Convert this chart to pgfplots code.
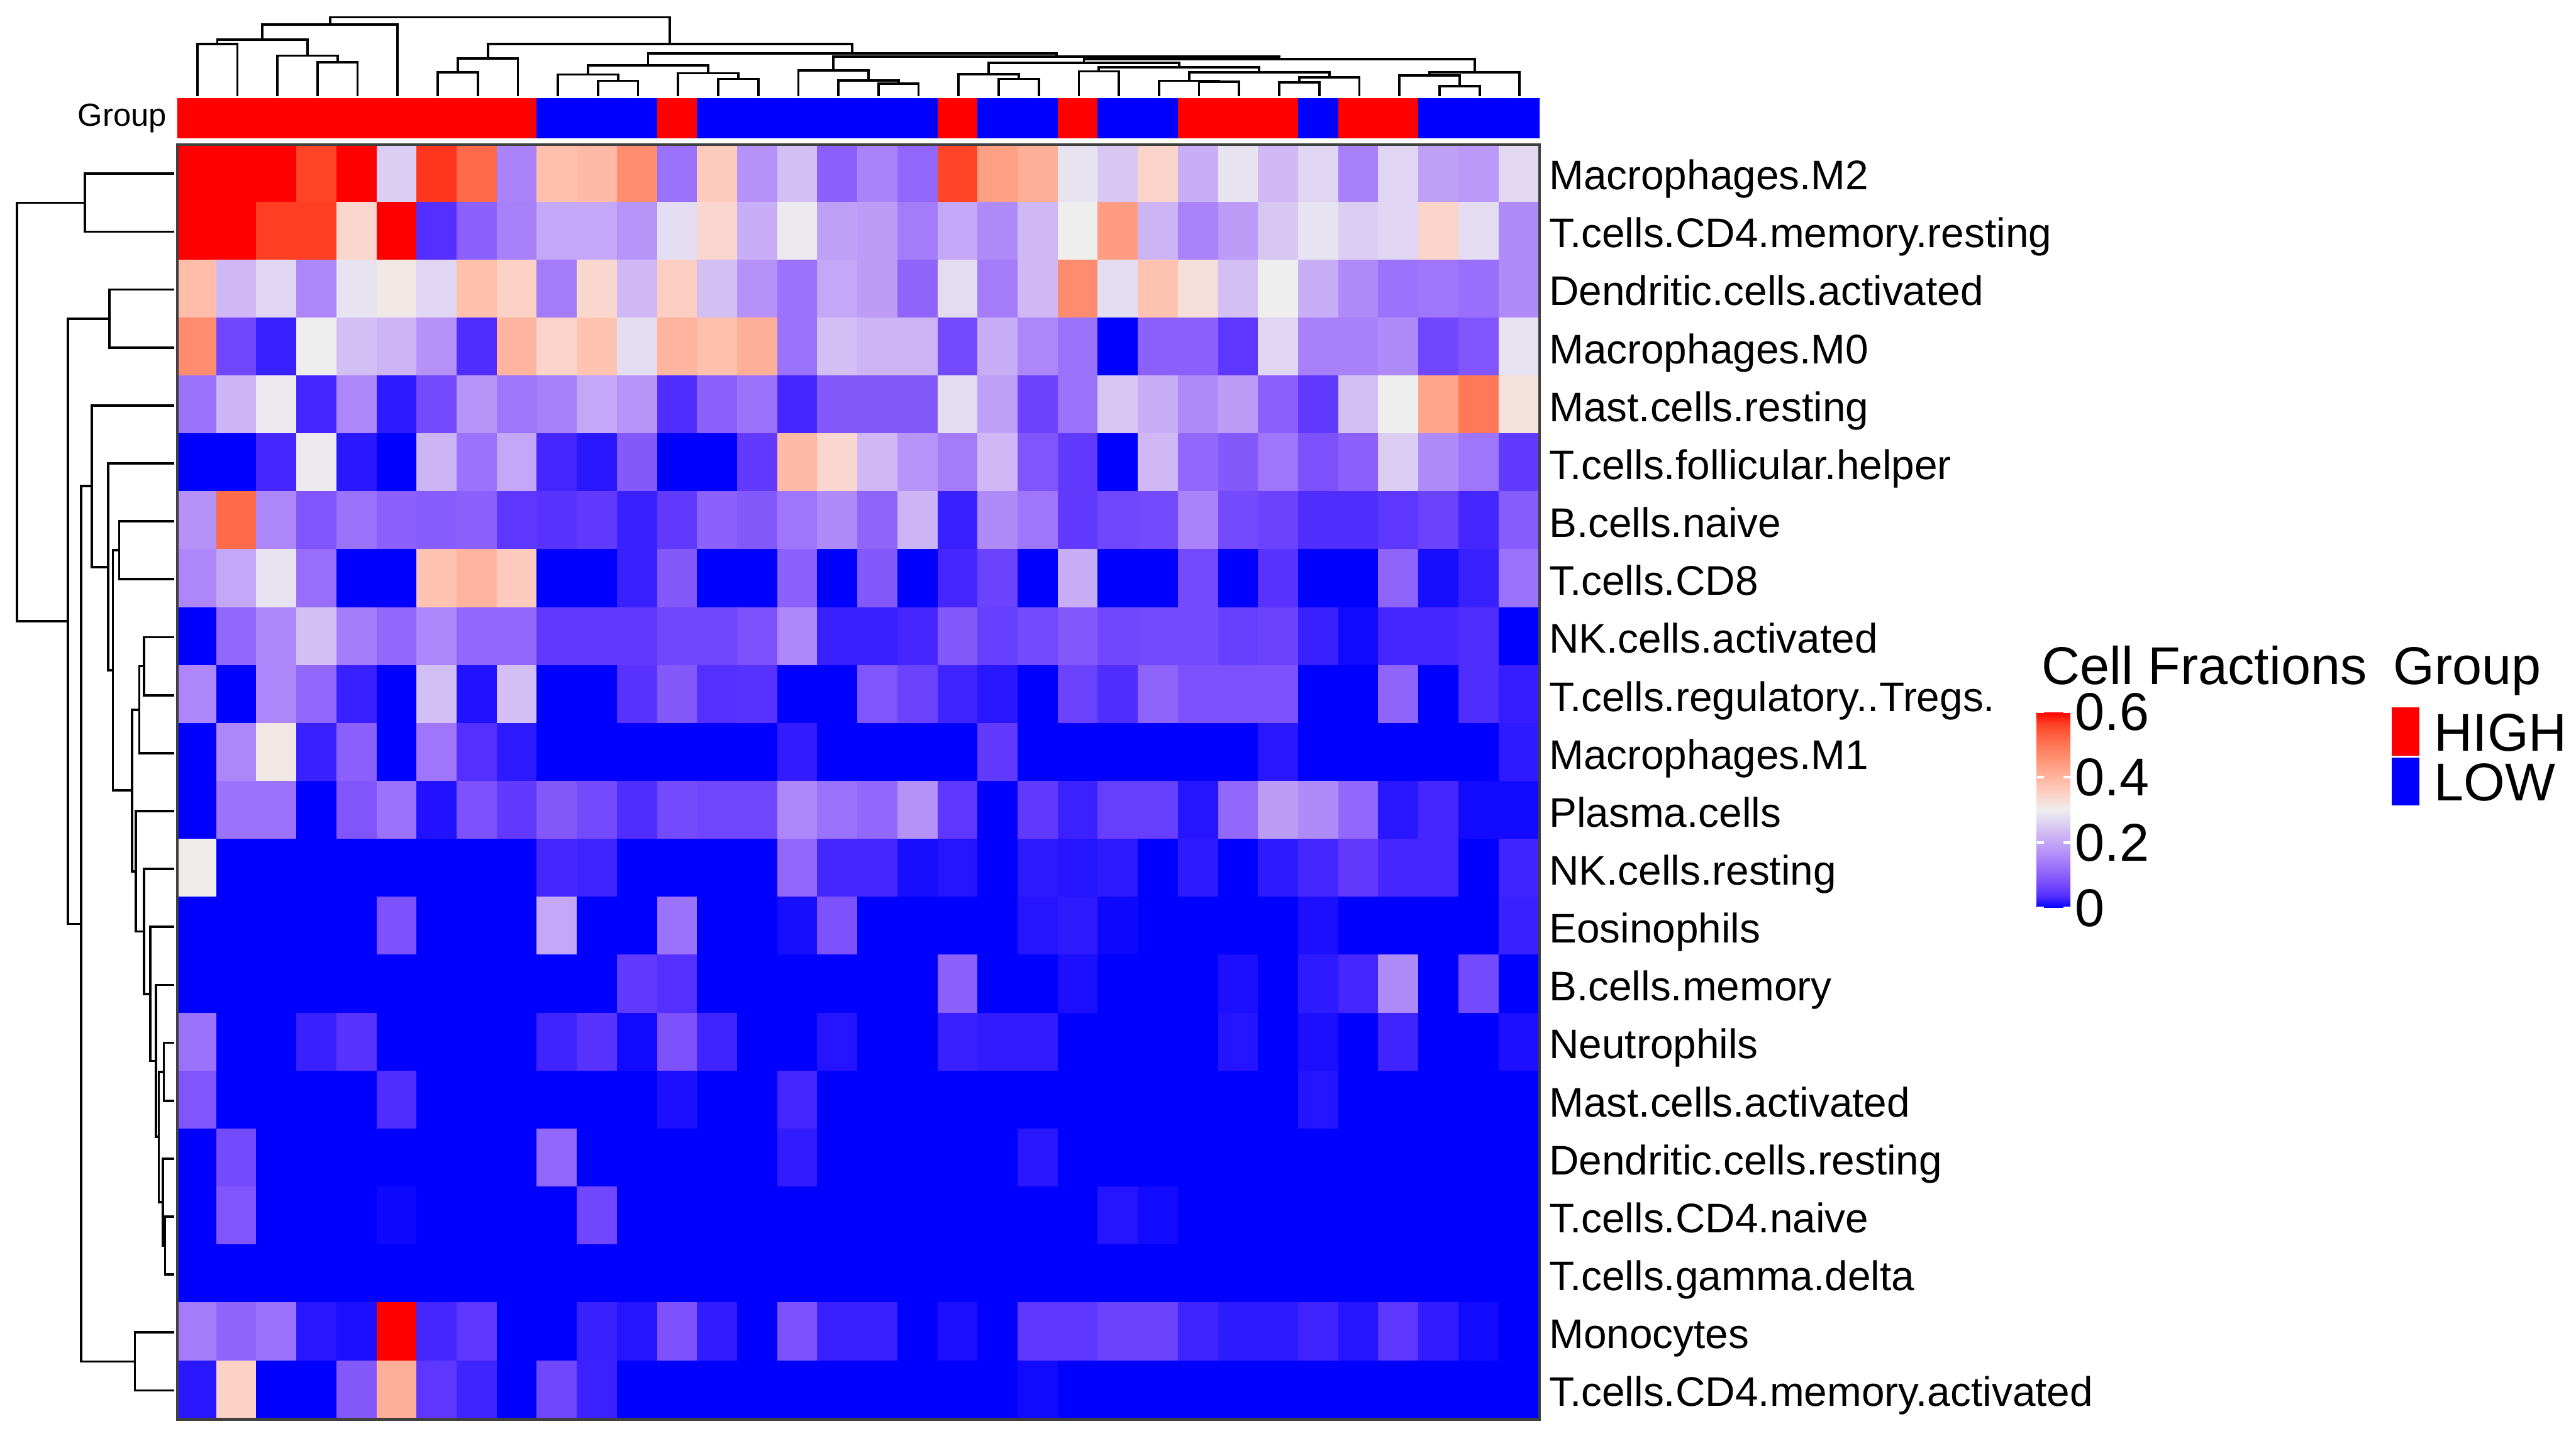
\documentclass[border=0pt]{standalone}
\usepackage{fontspec}
\setmainfont{Liberation Sans}
\usepackage{pgfplots}
\usepackage{pgfplotstable}
\pgfplotsset{compat=1.18}
\pgfplotsset{colormap={grp}{rgb255=(0,0,255) rgb255=(255,0,0)}}
\pgfplotsset{colormap={hm}{rgb255=(0,0,255) rgb255=(86,48,255) rgb255=(121,78,253) rgb255=(148,105,251) rgb255=(170,131,250) rgb255=(190,158,247) rgb255=(207,184,245) rgb255=(223,211,242) rgb255=(238,238,238) rgb255=(249,216,208) rgb255=(255,195,178) rgb255=(255,173,150) rgb255=(255,150,121) rgb255=(255,126,94) rgb255=(255,99,67) rgb255=(255,67,38) rgb255=(255,0,0)}}
\pgfplotsset{dend/.style={black, line width=0.4pt, mark=none, line join=miter}}

% heatmap values, row by row (22 rows x 34 columns)
\pgfplotstableread[row sep=\\]{
v\\
0.62\\0.62\\0.62\\0.56\\0.62\\0.255\\0.57\\0.515\\0.15\\0.38\\0.39\\0.465\\0.125\\0.36\\0.17\\0.235\\0.10\\0.15\\0.11\\0.56\\0.435\\0.41\\0.285\\0.245\\0.345\\0.21\\0.285\\0.225\\0.265\\0.145\\0.265\\0.19\\0.18\\0.27\\
0.62\\0.62\\0.565\\0.565\\0.34\\0.62\\0.037\\0.10\\0.145\\0.2\\0.2\\0.175\\0.275\\0.34\\0.21\\0.295\\0.19\\0.185\\0.14\\0.2\\0.16\\0.225\\0.3\\0.44\\0.22\\0.15\\0.185\\0.245\\0.285\\0.255\\0.265\\0.345\\0.275\\0.16\\
0.385\\0.225\\0.265\\0.155\\0.285\\0.31\\0.265\\0.38\\0.35\\0.14\\0.34\\0.225\\0.355\\0.235\\0.17\\0.125\\0.2\\0.185\\0.105\\0.275\\0.14\\0.225\\0.465\\0.275\\0.375\\0.325\\0.235\\0.3\\0.21\\0.16\\0.125\\0.13\\0.12\\0.16\\
0.465\\0.065\\0.025\\0.3\\0.235\\0.22\\0.17\\0.035\\0.4\\0.345\\0.375\\0.275\\0.4\\0.38\\0.41\\0.125\\0.235\\0.22\\0.22\\0.07\\0.21\\0.155\\0.125\\0\\0.1\\0.1\\0.045\\0.265\\0.145\\0.145\\0.16\\0.065\\0.085\\0.285\\
0.125\\0.22\\0.295\\0.03\\0.155\\0.02\\0.07\\0.175\\0.13\\0.145\\0.2\\0.175\\0.035\\0.1\\0.125\\0.03\\0.09\\0.09\\0.09\\0.275\\0.19\\0.06\\0.125\\0.245\\0.21\\0.16\\0.185\\0.1\\0.05\\0.235\\0.3\\0.425\\0.495\\0.32\\
0\\0\\0.03\\0.295\\0.018\\0\\0.22\\0.125\\0.2\\0.03\\0.018\\0.09\\0\\0\\0.05\\0.39\\0.34\\0.225\\0.175\\0.14\\0.225\\0.085\\0.05\\0\\0.225\\0.11\\0.09\\0.13\\0.08\\0.1\\0.255\\0.16\\0.13\\0.05\\
0.17\\0.515\\0.155\\0.085\\0.125\\0.1\\0.095\\0.1\\0.045\\0.04\\0.05\\0.025\\0.048\\0.1\\0.09\\0.13\\0.16\\0.105\\0.22\\0.025\\0.16\\0.13\\0.05\\0.065\\0.07\\0.15\\0.07\\0.06\\0.035\\0.035\\0.045\\0.06\\0.03\\0.095\\
0.155\\0.2\\0.285\\0.12\\0\\0\\0.375\\0.4\\0.36\\0\\0\\0.025\\0.09\\0\\0\\0.1\\0\\0.09\\0\\0.03\\0.06\\0\\0.21\\0\\0\\0.07\\0\\0.04\\0\\0\\0.105\\0.01\\0.025\\0.125\\
0\\0.11\\0.155\\0.235\\0.14\\0.11\\0.155\\0.11\\0.11\\0.05\\0.05\\0.05\\0.065\\0.065\\0.08\\0.155\\0.025\\0.025\\0.03\\0.09\\0.055\\0.07\\0.09\\0.065\\0.07\\0.07\\0.055\\0.06\\0.025\\0.008\\0.03\\0.03\\0.035\\0\\
0.155\\0\\0.155\\0.11\\0.025\\0\\0.235\\0.014\\0.235\\0\\0\\0.04\\0.09\\0.037\\0.04\\0\\0\\0.085\\0.06\\0.028\\0.018\\0\\0.06\\0.035\\0.105\\0.08\\0.08\\0.08\\0\\0\\0.105\\0\\0.035\\0.023\\
0\\0.155\\0.31\\0.025\\0.1\\0\\0.13\\0.037\\0.02\\0\\0\\0\\0\\0\\0\\0.022\\0\\0\\0\\0\\0.05\\0\\0\\0\\0\\0\\0\\0.018\\0\\0\\0\\0\\0\\0.02\\
0\\0.125\\0.125\\0\\0.085\\0.125\\0.014\\0.08\\0.05\\0.09\\0.07\\0.035\\0.07\\0.065\\0.065\\0.155\\0.125\\0.11\\0.17\\0.045\\0\\0.05\\0.026\\0.055\\0.055\\0.016\\0.11\\0.185\\0.16\\0.11\\0.018\\0.03\\0.008\\0.008\\
0.305\\0\\0\\0\\0\\0\\0\\0\\0\\0.03\\0.028\\0\\0\\0\\0\\0.11\\0.03\\0.03\\0.01\\0.016\\0\\0.02\\0.016\\0.02\\0\\0.02\\0\\0.02\\0.03\\0.05\\0.03\\0.03\\0\\0.028\\
0\\0\\0\\0\\0\\0.08\\0\\0\\0\\0.2\\0\\0\\0.125\\0\\0\\0.01\\0.08\\0\\0\\0\\0\\0.016\\0.02\\0.006\\0\\0\\0\\0\\0.012\\0\\0\\0\\0\\0.025\\
0\\0\\0\\0\\0\\0\\0\\0\\0\\0\\0\\0.05\\0.037\\0\\0\\0\\0\\0\\0\\0.1\\0\\0\\0.012\\0\\0\\0\\0.012\\0\\0.02\\0.03\\0.16\\0\\0.07\\0\\
0.125\\0\\0\\0.025\\0.04\\0\\0\\0\\0\\0.028\\0.04\\0.008\\0.08\\0.028\\0\\0\\0.016\\0\\0\\0.025\\0.022\\0.022\\0\\0\\0\\0\\0.016\\0\\0.012\\0\\0.028\\0\\0\\0.012\\
0.085\\0\\0\\0\\0\\0.035\\0\\0\\0\\0\\0\\0\\0.012\\0\\0\\0.03\\0\\0\\0\\0\\0\\0\\0\\0\\0\\0\\0\\0\\0.016\\0\\0\\0\\0\\0\\
0\\0.07\\0\\0\\0\\0\\0\\0\\0\\0.11\\0\\0\\0\\0\\0\\0.022\\0\\0\\0\\0\\0\\0.018\\0\\0\\0\\0\\0\\0\\0\\0\\0\\0\\0\\0\\
0\\0.085\\0\\0\\0\\0.006\\0\\0\\0\\0\\0.065\\0\\0\\0\\0\\0\\0\\0\\0\\0\\0\\0\\0\\0.016\\0.008\\0\\0\\0\\0\\0\\0\\0\\0\\0\\
0\\0\\0\\0\\0\\0\\0\\0\\0\\0\\0\\0\\0\\0\\0\\0\\0\\0\\0\\0\\0\\0\\0\\0\\0\\0\\0\\0\\0\\0\\0\\0\\0\\0\\
0.14\\0.105\\0.125\\0.018\\0.012\\0.62\\0.03\\0.045\\0\\0\\0.025\\0.016\\0.08\\0.022\\0\\0.08\\0.025\\0.025\\0\\0.012\\0\\0.045\\0.045\\0.06\\0.06\\0.028\\0.02\\0.02\\0.028\\0.016\\0.045\\0.022\\0.008\\0\\
0.018\\0.35\\0\\0\\0.09\\0.41\\0.045\\0.028\\0\\0.065\\0.026\\0\\0\\0\\0\\0\\0\\0\\0\\0\\0\\0.008\\0\\0\\0\\0\\0\\0\\0\\0\\0\\0\\0\\0\\
}\heat

% group annotation (1 = HIGH, 0 = LOW), two identical rows
\pgfplotstableread[row sep=\\]{
g\\
1\\1\\1\\1\\1\\1\\1\\1\\1\\0\\0\\0\\1\\0\\0\\0\\0\\0\\0\\1\\0\\0\\1\\0\\0\\1\\1\\1\\0\\1\\1\\0\\0\\0\\
1\\1\\1\\1\\1\\1\\1\\1\\1\\0\\0\\0\\1\\0\\0\\0\\0\\0\\0\\1\\0\\0\\1\\0\\0\\1\\1\\1\\0\\1\\1\\0\\0\\0\\
}\grp

\begin{document}
\begin{tikzpicture}
\useasboundingbox (0,0) rectangle (436pt,242.2pt);

% ---------------- heatmap ----------------
\begin{axis}[
  at={(30pt,1.9pt)}, anchor=south west, scale only axis,
  width=230.6pt, height=215.8pt,
  xmin=-0.5, xmax=33.5, ymin=-0.5, ymax=21.5, y dir=reverse,
  xtick=\empty, ytick={0,...,21},
  yticklabels={Macrophages.M2,T.cells.CD4.memory.resting,Dendritic.cells.activated,Macrophages.M0,Mast.cells.resting,T.cells.follicular.helper,B.cells.naive,T.cells.CD8,NK.cells.activated,T.cells.regulatory..Tregs.,Macrophages.M1,Plasma.cells,NK.cells.resting,Eosinophils,B.cells.memory,Neutrophils,Mast.cells.activated,Dendritic.cells.resting,T.cells.CD4.naive,T.cells.gamma.delta,Monocytes,T.cells.CD4.memory.activated},
  yticklabel pos=right, major tick length=0pt, ytick style={draw=none},
  yticklabel style={font=\fontsize{7}{8}\selectfont, anchor=west, inner sep=0pt, xshift=1.4pt, yshift=-0.2pt, text height=5pt, text depth=0pt},
  axis on top, axis line style={draw=black!75, line width=0.45pt},
  colormap name=hm, point meta min=0, point meta max=0.6,
  colorbar,
  colorbar style={
    at={(parent axis.south west)}, anchor=south west, xshift=306.2pt, yshift=86.6pt,
    scale only axis, width=5.7pt, height=33.2pt,
    ytick={0,0.2,0.4,0.6}, yticklabels={0,0.2,0.4,0.6},
    yticklabel pos=right, ytick pos=both, tick align=inside, major tick length=1.2pt,
    ytick style={draw=white, line width=0.45pt},
    yticklabel style={font=\fontsize{9}{9}\selectfont, inner sep=0pt, anchor=west, xshift=0.6pt},
    axis line style={draw=none},
  },
]
\addplot[matrix plot*, mesh/cols=34, point meta=explicit]
  table[x index=0, y index=0, x expr={mod(\coordindex,34)}, y expr={floor((\coordindex+0.5)/34)}, meta index=0]{\heat};
\end{axis}

% ---------------- group annotation bar ----------------
\begin{axis}[
  at={(30pt,218.8pt)}, anchor=south west, scale only axis,
  width=230.6pt, height=6.7pt,
  xmin=-0.5, xmax=33.5, ymin=-0.5, ymax=1.5,
  xtick=\empty, ytick={0.5}, yticklabels={Group},
  major tick length=0pt, ytick style={draw=none},
  yticklabel style={font=\fontsize{5.4}{6}\selectfont, anchor=east, inner sep=0pt, xshift=-1.6pt},
  axis line style={draw=none},
  colormap name=grp, point meta min=0, point meta max=1,
]
\addplot[matrix plot*, mesh/cols=34, point meta=explicit]
  table[x index=0, y index=0, x expr={mod(\coordindex,34)}, y expr={floor((\coordindex+0.5)/34)}, meta index=0]{\grp};
\end{axis}

% ---------------- column dendrogram ----------------
\begin{axis}[
  at={(30pt,225.9pt)}, anchor=south west, scale only axis,
  width=230.6pt, height=13.37pt,
  xmin=-0.5, xmax=33.5, ymin=0, ymax=133.7, hide axis, clip=false,
]
\addplot[dend] coordinates {(0,0)(0,88.3)(1,88.3)(1,0)};
\addplot[dend] coordinates {(3,0)(3,57.7)(4,57.7)(4,0)};
\addplot[dend] coordinates {(2,0)(2,68.7)(3.5,68.7)(3.5,57.7)};
\addplot[dend] coordinates {(0.5,88.3)(0.5,96.3)(2.75,96.3)(2.75,68.7)};
\addplot[dend] coordinates {(1.625,96.3)(1.625,121.3)(5,121.3)(5,0)};
\addplot[dend] coordinates {(6,0)(6,40.7)(7,40.7)(7,0)};
\addplot[dend] coordinates {(6.5,40.7)(6.5,63.7)(8,63.7)(8,0)};
\addplot[dend] coordinates {(10,0)(10,26.3)(11,26.3)(11,0)};
\addplot[dend] coordinates {(9,0)(9,37)(10.5,37)(10.5,26.3)};
\addplot[dend] coordinates {(13,0)(13,29.3)(14,29.3)(14,0)};
\addplot[dend] coordinates {(12,0)(12,39)(13.5,39)(13.5,29.3)};
\addplot[dend] coordinates {(9.75,37)(9.75,52.3)(12.75,52.3)(12.75,39)};
\addplot[dend] coordinates {(17,0)(17,21.7)(18,21.7)(18,0)};
\addplot[dend] coordinates {(16,0)(16,27)(17.5,27)(17.5,21.7)};
\addplot[dend] coordinates {(15,0)(15,43.7)(16.75,43.7)(16.75,27)};
\addplot[dend] coordinates {(20,0)(20,29.3)(21,29.3)(21,0)};
\addplot[dend] coordinates {(19,0)(19,37.3)(20.5,37.3)(20.5,29.3)};
\addplot[dend] coordinates {(22,0)(22,42.3)(23,42.3)(23,0)};
\addplot[dend] coordinates {(25,0)(25,25)(26,25)(26,0)};
\addplot[dend] coordinates {(24,0)(24,26.3)(25.5,26.3)(25.5,25)};
\addplot[dend] coordinates {(27,0)(27,23.3)(28,23.3)(28,0)};
\addplot[dend] coordinates {(27.5,23.3)(27.5,32)(29,32)(29,0)};
\addplot[dend] coordinates {(24.75,26.3)(24.75,41)(28.25,41)(28.25,32)};
\addplot[dend] coordinates {(22.5,42.3)(22.5,49.3)(26.5,49.3)(26.5,41)};
\addplot[dend] coordinates {(19.75,37.3)(19.75,56.3)(24.5,56.3)(24.5,49.3)};
\addplot[dend] coordinates {(31,0)(31,17)(32,17)(32,0)};
\addplot[dend] coordinates {(30,0)(30,35.3)(31.5,35.3)(31.5,17)};
\addplot[dend] coordinates {(30.75,35.3)(30.75,40.3)(33,40.3)(33,0)};
\addplot[dend] coordinates {(22.125,56.3)(22.125,63.3)(31.875,63.3)(31.875,40.3)};
\addplot[dend] coordinates {(15.875,43.7)(15.875,67)(27,67)(27,63.3)};
\addplot[dend] coordinates {(11.25,52.3)(11.25,72.3)(21.4375,72.3)(21.4375,67)};
\addplot[dend] coordinates {(7.25,63.7)(7.25,88.3)(16.34375,88.3)(16.34375,72.3)};
\addplot[dend] coordinates {(3.3125,121.3)(3.3125,133.7)(11.796875,133.7)(11.796875,88.3)};
\end{axis}

% ---------------- row dendrogram ----------------
\begin{axis}[
  at={(2.9pt,1.9pt)}, anchor=south west, scale only axis,
  width=26.6pt, height=215.8pt,
  xmin=0, xmax=266, x dir=reverse,
  ymin=-0.5, ymax=21.5, y dir=reverse, hide axis, clip=false,
]
\addplot[dend] coordinates {(0,0)(151,0)(151,1)(0,1)};
\addplot[dend] coordinates {(0,2)(110,2)(110,3)(0,3)};
\addplot[dend] coordinates {(0,6)(93.3,6)(93.3,7)(0,7)};
\addplot[dend] coordinates {(0,8)(51,8)(51,9)(0,9)};
\addplot[dend] coordinates {(51,8.5)(59.3,8.5)(59.3,10)(0,10)};
\addplot[dend] coordinates {(0,18)(15.7,18)(15.7,19)(0,19)};
\addplot[dend] coordinates {(0,17)(19,17)(19,18.5)(15.7,18.5)};
\addplot[dend] coordinates {(0,15)(17.7,15)(17.7,16)(0,16)};
\addplot[dend] coordinates {(17.7,15.5)(26.3,15.5)(26.3,17.75)(19,17.75)};
\addplot[dend] coordinates {(0,14)(31,14)(31,16.625)(26.3,16.625)};
\addplot[dend] coordinates {(0,13)(40.7,13)(40.7,15.3125)(31,15.3125)};
\addplot[dend] coordinates {(0,12)(51,12)(51,14.15625)(40.7,14.15625)};
\addplot[dend] coordinates {(0,11)(65,11)(65,13.078)(51,13.078)};
\addplot[dend] coordinates {(59.3,9.25)(71.7,9.25)(71.7,12.039)(65,12.039)};
\addplot[dend] coordinates {(93.3,6.5)(104,6.5)(104,10.645)(71.7,10.645)};
\addplot[dend] coordinates {(0,5)(112,5)(112,8.572)(104,8.572)};
\addplot[dend] coordinates {(0,4)(139.3,4)(139.3,6.786)(112,6.786)};
\addplot[dend] coordinates {(0,20)(66.7,20)(66.7,21)(0,21)};
\addplot[dend] coordinates {(139.3,5.393)(157.7,5.393)(157.7,20.5)(66.7,20.5)};
\addplot[dend] coordinates {(110,2.5)(179.7,2.5)(179.7,12.947)(157.7,12.947)};
\addplot[dend] coordinates {(151,0.5)(266,0.5)(266,7.723)(179.7,7.723)};
\end{axis}

% ---------------- group legend boxes ----------------
\begin{axis}[
  at={(404.8pt,105.8pt)}, anchor=south west, scale only axis,
  width=4.7pt, height=16.7pt,
  xmin=0, xmax=1, ymin=0, ymax=167, hide axis,
]
\addplot[fill=red, draw=none] coordinates {(0,85)(1,85)(1,167)(0,167)} -- cycle;
\addplot[fill=blue, draw=none] coordinates {(0,0)(1,0)(1,81)(0,81)} -- cycle;
\end{axis}

% ---------------- legend texts ----------------
\node[anchor=base west, inner sep=0pt, font=\fontsize{9}{9}\selectfont] at (345.4pt,126.3pt) {Cell Fractions};
\node[anchor=base west, inner sep=0pt, font=\fontsize{9}{9}\selectfont] at (404.9pt,126.3pt) {Group};
\node[anchor=base west, inner sep=0pt, font=\fontsize{9}{9}\selectfont] at (411.8pt,115.1pt) {HIGH};
\node[anchor=base west, inner sep=0pt, font=\fontsize{9}{9}\selectfont] at (411.8pt,106.6pt) {LOW};
\end{tikzpicture}
\end{document}
